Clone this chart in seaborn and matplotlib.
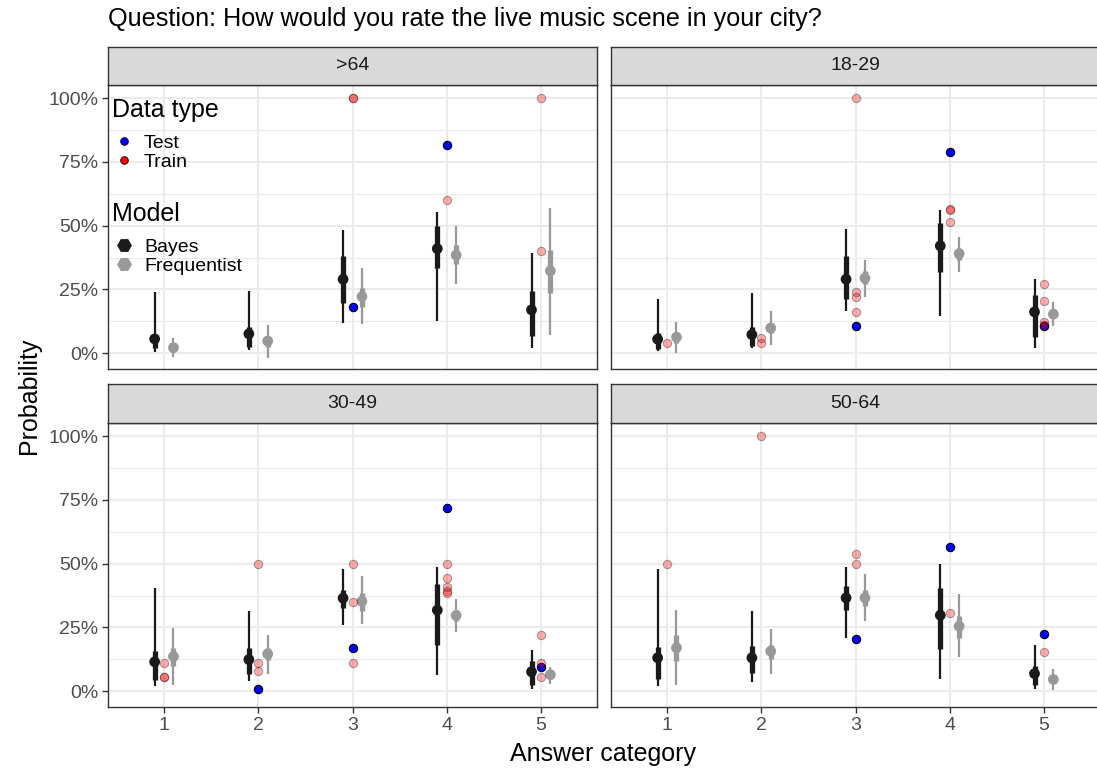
import numpy as np
import pandas as pd
import matplotlib
matplotlib.use("Agg")
import matplotlib.pyplot as plt
import seaborn as sns
from matplotlib.lines import Line2D
from matplotlib.ticker import FixedLocator, FuncFormatter

sns.set_theme(style="whitegrid")
plt.rcParams['font.family'] = ['Liberation Sans', 'DejaVu Sans']
plt.rcParams['text.color'] = 'black'

# ---------------- data ----------------
groups = [">64", "18-29", "30-49", "50-64"]
categories = [1, 2, 3, 4, 5]
y_ticks = [0.0, 0.25, 0.5, 0.75, 1.0]

# Bayes model: median, 50% interval, 95% interval (rows = groups, cols = categories)
bayes_mid  = [[0.056, 0.076, 0.290, 0.410, 0.170],
              [0.055, 0.073, 0.290, 0.421, 0.162],
              [0.115, 0.124, 0.365, 0.318, 0.076],
              [0.131, 0.131, 0.366, 0.298, 0.069]]
bayes_lo50 = [[0.020, 0.026, 0.198, 0.336, 0.068],
              [0.016, 0.029, 0.213, 0.320, 0.065],
              [0.042, 0.068, 0.327, 0.180, 0.026],
              [0.046, 0.072, 0.320, 0.167, 0.023]]
bayes_hi50 = [[0.073, 0.102, 0.382, 0.499, 0.242],
              [0.078, 0.102, 0.383, 0.510, 0.229],
              [0.157, 0.170, 0.395, 0.421, 0.120],
              [0.174, 0.176, 0.414, 0.405, 0.098]]
bayes_lo95 = [[0.006, 0.013, 0.118, 0.127, 0.020],
              [0.010, 0.020, 0.166, 0.146, 0.022],
              [0.020, 0.039, 0.258, 0.065, 0.007],
              [0.020, 0.037, 0.208, 0.046, 0.007]]
bayes_hi95 = [[0.240, 0.245, 0.484, 0.553, 0.392],
              [0.213, 0.237, 0.488, 0.562, 0.290],
              [0.405, 0.314, 0.481, 0.487, 0.160],
              [0.480, 0.314, 0.486, 0.497, 0.181]]

# Frequentist model
freq_mid  = [[0.022, 0.048, 0.222, 0.385, 0.323],
             [0.063, 0.099, 0.294, 0.390, 0.153],
             [0.136, 0.146, 0.353, 0.297, 0.065],
             [0.170, 0.157, 0.366, 0.255, 0.046]]
freq_lo50 = [[0.006, 0.026, 0.180, 0.350, 0.235],
             [0.039, 0.078, 0.270, 0.366, 0.140],
             [0.098, 0.122, 0.316, 0.275, 0.046],
             [0.120, 0.125, 0.335, 0.210, 0.033]]
freq_hi50 = [[0.039, 0.065, 0.255, 0.426, 0.405],
             [0.078, 0.118, 0.322, 0.412, 0.173],
             [0.170, 0.170, 0.386, 0.320, 0.085],
             [0.220, 0.183, 0.398, 0.295, 0.059]]
freq_lo95 = [[-0.015, -0.017, 0.114, 0.270, 0.072],
             [0.000, 0.033, 0.222, 0.320, 0.108],
             [0.026, 0.068, 0.265, 0.231, 0.030],
             [0.024, 0.068, 0.275, 0.133, 0.003]]
freq_hi95 = [[0.059, 0.109, 0.334, 0.500, 0.569],
             [0.124, 0.164, 0.366, 0.457, 0.199],
             [0.248, 0.222, 0.452, 0.363, 0.095],
             [0.317, 0.242, 0.460, 0.382, 0.089]]

# Observed proportions: test data (one per group/category, None = absent)
test_vals = [[None, None, 0.182, 0.818, None],
             [None, None, 0.105, 0.790, 0.105],
             [None, 0.010, 0.169, 0.718, 0.095],
             [None, None, 0.203, 0.567, 0.226]]

# Observed proportions: training data
train_group = [">64"] * 5 + ["18-29"] * 14 + ["30-49"] * 17 + ["50-64"] * 6
train_cat = [3, 3, 4, 5, 5,
             1, 2, 2, 3, 3, 3, 3, 4, 4, 4, 5, 5, 5, 5,
             1, 1, 1, 2, 2, 2, 3, 3, 3, 4, 4, 4, 4, 4, 5, 5, 5,
             1, 2, 3, 3, 4, 5]
train_val = [1.0, 1.0, 0.60, 1.0, 0.40,
             0.039, 0.059, 0.039, 1.0, 0.239, 0.220, 0.161, 0.567, 0.562, 0.514, 0.272, 0.206, 0.122, 0.110,
             0.110, 0.055, 0.055, 0.50, 0.110, 0.081, 0.50, 0.350, 0.110, 0.50, 0.444, 0.407, 0.392, 0.386, 0.222, 0.109, 0.055,
             0.50, 1.0, 0.537, 0.50, 0.307, 0.153]

# ---------------- styling ----------------
W, H = 1097, 769
fig = plt.figure(figsize=(W / 100, H / 100), dpi=100)

bayes_col = "#1A1A1A"
freq_col = "#999999"
dodge = 0.1
border = "#333333"
grid_col = "#EBEBEB"

# panel rectangles in pixels: (left, top, right, bottom)
panel_px = [(108, 85, 597, 369), (611, 85, 1100, 369),
            (108, 423, 597, 707), (611, 423, 1100, 707)]
strip_px = [(108, 47, 597, 85), (611, 47, 1100, 85),
            (108, 384, 597, 423), (611, 384, 1100, 423)]


def frac(l, t, r, b):
    return [l / W, 1 - b / H, (r - l) / W, (b - t) / H]


train_df = pd.DataFrame({"group": train_group, "cat": train_cat, "val": train_val})

for gi, g in enumerate(groups):
    ax = fig.add_axes(frac(*panel_px[gi]))
    ax.set_facecolor("white")
    ax.set_xlim(0.405, 5.595)
    ax.set_ylim(-0.062, 1.052)
    ax.yaxis.set_major_locator(FixedLocator(y_ticks))
    ax.yaxis.set_minor_locator(FixedLocator([0.125, 0.375, 0.625, 0.875]))
    ax.xaxis.set_major_locator(FixedLocator(categories))
    ax.grid(which="major", color=grid_col, lw=1.5)
    ax.grid(which="minor", axis="y", color=grid_col, lw=0.8)
    ax.set_axisbelow(True)
    for s in ax.spines.values():
        s.set_color(border)
        s.set_linewidth(1.0)

    # intervals
    xb = np.array(categories) - dodge
    xf = np.array(categories) + dodge
    ax.vlines(xb, bayes_lo95[gi], bayes_hi95[gi], color=bayes_col, lw=1.6, zorder=3)
    ax.vlines(xb, bayes_lo50[gi], bayes_hi50[gi], color=bayes_col, lw=3.8, zorder=3)
    ax.vlines(xf, freq_lo95[gi], freq_hi95[gi], color=freq_col, lw=1.6, zorder=3)
    ax.vlines(xf, freq_lo50[gi], freq_hi50[gi], color=freq_col, lw=3.8, zorder=3)

    mid_df = pd.DataFrame({
        "x": np.concatenate([xb, xf]),
        "y": bayes_mid[gi] + freq_mid[gi],
        "Model": ["Bayes"] * 5 + ["Frequentist"] * 5,
    })
    sns.scatterplot(data=mid_df, x="x", y="y", hue="Model",
                    palette={"Bayes": bayes_col, "Frequentist": freq_col},
                    s=60, linewidth=0, legend=False, ax=ax, zorder=4)

    # observed points
    tv = [(c, v) for c, v in zip(categories, test_vals[gi]) if v is not None]
    test_df = pd.DataFrame(tv, columns=["cat", "val"])
    sns.scatterplot(data=test_df, x="cat", y="val", color="#0000FF",
                    edgecolor="black", linewidth=0.8, s=36, legend=False, ax=ax, zorder=5)
    sub = train_df[train_df["group"] == g]
    sns.scatterplot(data=sub, x="cat", y="val", color="#FF0000", alpha=0.32,
                    edgecolor="black", linewidth=0.8, s=36, legend=False, ax=ax, zorder=6)

    ax.set_xlabel("")
    ax.set_ylabel("")
    ax.tick_params(axis="both", which="major", length=4, width=1.0, color=border,
                   labelsize=14, labelcolor="#4D4D4D", pad=3)
    ax.tick_params(axis="both", which="minor", length=0)
    if gi in (0, 2):
        ax.yaxis.set_major_formatter(FuncFormatter(lambda v, p: f"{v * 100:.0f}%"))
        ax.tick_params(axis="y", left=True, labelleft=True)
    else:
        ax.tick_params(axis="y", left=False, labelleft=False)
    if gi in (2, 3):
        ax.tick_params(axis="x", bottom=True, labelbottom=True)
    else:
        ax.tick_params(axis="x", bottom=False, labelbottom=False)

    # strip
    sax = fig.add_axes(frac(*strip_px[gi]))
    sax.set_facecolor("#D9D9D9")
    sax.set_xticks([])
    sax.set_yticks([])
    sax.grid(False)
    for s in sax.spines.values():
        s.set_color(border)
        s.set_linewidth(1.0)
    sax.text(0.5, 0.5, g, transform=sax.transAxes, ha="center", va="center",
             fontsize=14, color="#1A1A1A")

    if gi == 0:
        h_dt = [Line2D([], [], marker="o", ls="", markersize=5.5, markerfacecolor="#0000FF",
                       markeredgecolor="black", markeredgewidth=0.6),
                Line2D([], [], marker="o", ls="", markersize=5.5, markerfacecolor="#FF0000",
                       markeredgecolor="black", markeredgewidth=0.6)]
        leg1 = ax.legend(h_dt, ["Test", "Train"], title="Data type", loc="upper left",
                         bbox_to_anchor=(112 / W, 1 - 98 / H), bbox_transform=fig.transFigure,
                         frameon=False, fontsize=14, title_fontsize=18, labelspacing=0.1,
                         handletextpad=0.45, handlelength=1.2, borderpad=0, borderaxespad=0,
                         alignment="left", labelcolor="black")
        leg1._legend_box.sep = 8.6
        leg1.get_title().set_color("black")
        ax.add_artist(leg1)
        h_m = [Line2D([], [], marker="H", ls="", markersize=9.5, color=bayes_col),
               Line2D([], [], marker="H", ls="", markersize=9.5, color=freq_col)]
        leg2 = ax.legend(h_m, ["Bayes", "Frequentist"], title="Model", loc="upper left",
                         bbox_to_anchor=(112 / W, 1 - 202 / H), bbox_transform=fig.transFigure,
                         frameon=False, fontsize=14, title_fontsize=18, labelspacing=0.1,
                         handletextpad=0.45, handlelength=1.2, borderpad=0, borderaxespad=0,
                         alignment="left", labelcolor="black")
        leg2._legend_box.sep = 8.6
        leg2.get_title().set_color("black")

fig.text(108 / W, 1 - 19 / H, "Question: How would you rate the live music scene in your city?",
         ha="left", va="center", fontsize=18.2, color="black")
fig.text(603 / W, 1 - 754 / H, "Answer category", ha="center", va="center", fontsize=18, color="black")
fig.text(29 / W, 1 - 396 / H, "Probability", ha="center", va="center", rotation=90,
         fontsize=18, color="black")

fig.savefig("out.png", dpi=100, facecolor="white")
